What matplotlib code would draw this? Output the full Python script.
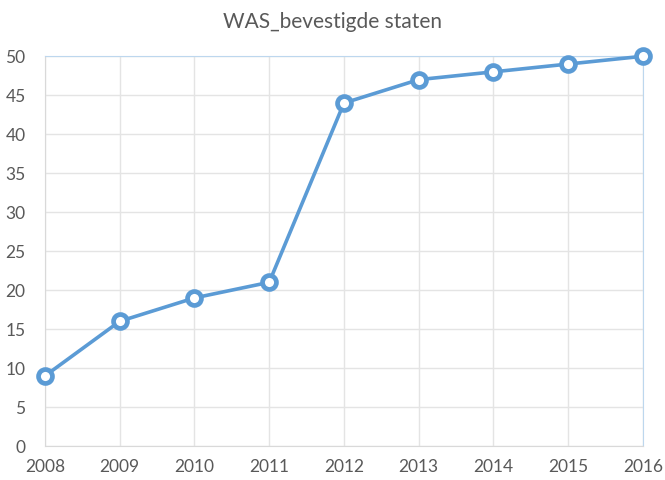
import matplotlib
matplotlib.use('Agg')
import matplotlib.pyplot as plt

# Data
years = [2008, 2009, 2010, 2011, 2012, 2013, 2014, 2015, 2016]
confirmed = [9, 16, 19, 21, 44, 47, 48, 49, 50]
y_ticks = list(range(0, 51, 5))

plt.rcParams['font.family'] = ['Lato', 'DejaVu Sans']

fig = plt.figure(figsize=(6.65, 4.8), dpi=100)
ax = fig.add_axes([0.0677, 0.0708, 0.899, 0.812])

line_color = '#5B9BD5'
ax.plot(years, confirmed, color=line_color, linewidth=2.6,
        marker='o', markersize=10, markerfacecolor='white',
        markeredgecolor=line_color, markeredgewidth=3.4, zorder=3, clip_on=False)

ax.set_xlim(years[0], years[-1])
ax.set_ylim(0, 50)
ax.set_xticks(years)
ax.set_yticks(y_ticks)
ax.grid(True, color='#E4E4E4', linewidth=1)
ax.set_axisbelow(True)

for side in ['left', 'bottom']:
    ax.spines[side].set_color('#D9D9D9')
for side in ['top', 'right']:
    ax.spines[side].set_color('#BDD7EE')

ax.tick_params(length=0, labelsize=12.5, labelcolor='#595959')
ax.tick_params(axis='x', pad=9)
ax.tick_params(axis='y', pad=14)

fig.suptitle('WAS_bevestigde staten', x=0.5, y=0.975, fontsize=15, color='#595959')

fig.savefig('out.png', dpi=100)
